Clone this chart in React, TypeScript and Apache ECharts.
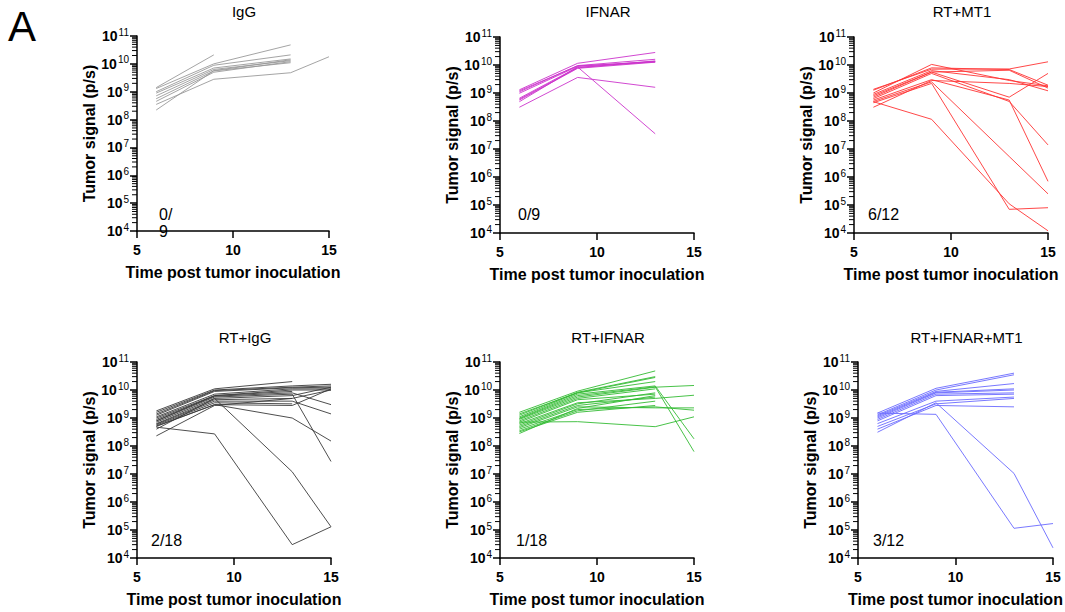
import React, { useEffect, useRef } from "react";
import * as echarts from "echarts";

// Imaging days (x values) shared by every mouse; null = no measurement
const DAYS = [6, 9, 13, 15];
const X_TICKS = [5, 10, 15];
const Y_EXPONENTS = [4, 5, 6, 7, 8, 9, 10, 11];

// Tumor signal (p/s) per mouse, at DAYS
const IGG = [
  [1.4e9, 2.1e10, null, null],
  [2.2e8, 5.7e9, 1.4e10, null],
  [1.3e9, 1.0e10, 4.8e10, null],
  [1.0e9, 8.9e9, 2.1e10, null],
  [8.9e8, 7.1e9, 1.5e10, null],
  [7.1e8, 6.3e9, 1.3e10, null],
  [5.6e8, 5.6e9, 1.1e10, null],
  [4.5e8, 5.0e9, 1.2e10, null],
  [3.5e8, 2.8e9, 4.8e9, 1.8e10],
];

const IFNAR = [
  [1.3e9, 1.15e10, 2.8e10, null],
  [1.1e9, 9.5e9, 1.6e10, null],
  [9.8e8, 8.9e9, 1.35e10, null],
  [6.5e8, 8.3e9, 1.3e10, null],
  [6.0e8, 7.9e9, 1.4e10, null],
  [4.9e8, 8.5e9, 3.5e7, null],
  [3.1e8, 3.6e9, 1.6e9, null],
  [1.2e9, 9.3e9, 1.3e10, null],
  [5.6e8, 7.6e9, 1.26e10, null],
];

const RT_MT1 = [
  [1.35e9, 7.1e9, 7.2e9, 1.3e10],
  [1.26e9, 7.9e9, 6.9e9, 1.9e9],
  [1.0e9, 1.05e10, 2.8e9, 1.8e9],
  [8.9e8, 6.3e9, 3.0e9, 1.2e9],
  [8.0e8, 5.6e9, 6.5e9, 1.5e9],
  [7.1e8, 5.6e9, 7.1e8, 5.0e9],
  [6.3e8, 5.0e9, 5.0e8, 1.4e7],
  [5.6e8, 3.0e9, 5.6e8, 7.0e5],
  [5.0e8, 2.5e9, 5.4e6, 2.5e5],
  [4.5e8, 2.2e9, 7.0e4, 8.0e4],
  [4.9e8, 1.15e8, 1.1e5, 1.2e4],
  [3.1e8, 2.8e9, 2.2e9, 1.7e9],
];

const RT_IGG = [
  [1.8e9, 1.1e10, 2.0e10, null],
  [1.6e9, 1.0e10, 1.4e10, 1.6e10],
  [1.4e9, 9.5e9, 1.26e10, 1.4e10],
  [1.26e9, 8.9e9, 1.2e10, 1.26e10],
  [1.1e9, 7.1e9, 1.1e10, 1.1e10],
  [1.0e9, 6.3e9, 1.0e10, 1.0e10],
  [8.9e8, 6.0e9, 7.9e9, 3.0e9],
  [7.9e8, 5.6e9, 7.1e9, 2.8e7],
  [7.1e8, 5.0e9, 6.3e9, 1.26e10],
  [6.3e8, 4.5e9, 5.0e9, null],
  [6.0e8, 4.0e9, 4.0e9, 1.4e9],
  [5.6e8, 3.5e9, 3.2e9, null],
  [5.2e8, 3.0e9, 2.8e9, 1.1e10],
  [5.0e8, 3.0e9, 1.0e9, 1.5e8],
  [4.7e8, 2.7e8, 3.0e4, 1.3e5],
  [4.0e8, 5.0e9, 1.2e7, 1.3e5],
  [2.3e8, 2.8e9, 5.0e9, 1.0e10],
  [7.9e8, 6.3e9, 8.9e9, null],
];

const RT_IFNAR = [
  [1.6e9, 9.1e9, 4.8e10, null],
  [1.26e9, 8.3e9, 3.0e10, null],
  [1.1e9, 7.9e9, 2.8e10, null],
  [1.0e9, 7.1e9, 1.4e10, 1.8e8],
  [9.5e8, 6.3e9, 1.3e10, 6.3e7],
  [8.9e8, 5.6e9, 1.26e10, 1.45e10],
  [7.9e8, 5.0e9, 1.1e10, null],
  [7.1e8, 4.5e9, 7.1e9, null],
  [6.3e8, 3.5e9, 5.0e9, 6.5e9],
  [5.6e8, 3.2e9, 7.9e9, null],
  [5.0e8, 2.8e9, 5.6e9, null],
  [4.5e8, 2.5e9, 2.3e9, 2.3e9],
  [4.0e8, 2.0e9, 2.5e9, 1.9e9],
  [3.5e8, 1.8e9, 4.0e9, null],
  [2.8e8, 2.2e9, 6.3e9, null],
  [7.1e8, 7.4e8, 4.9e8, 1.1e9],
  [1.4e9, 7.9e9, 2.0e10, null],
  [3.2e8, 1.6e9, 2.8e9, null],
];

const RT_IFNAR_MT1 = [
  [1.5e9, 1.15e10, 4.0e10, null],
  [1.3e9, 1.0e10, 3.5e10, null],
  [1.2e9, 8.9e9, 1.7e10, null],
  [1.1e9, 8.3e9, 1.1e10, null],
  [1.0e9, 7.9e9, 1.0e10, null],
  [8.9e8, 7.1e9, 7.9e9, null],
  [7.9e8, 6.3e9, 7.1e9, null],
  [6.3e8, 4.0e9, 5.6e9, null],
  [5.0e8, 3.2e9, 5.0e9, null],
  [4.0e8, 2.8e9, 2.5e9, null],
  [3.1e8, 3.5e9, 1.05e7, 2.3e4],
  [1.5e9, 1.35e9, 1.15e5, 1.7e5],
];

const PANEL_TITLES = ["IgG", "IFNAR", "RT+MT1", "RT+IgG", "RT+IFNAR", "RT+IFNAR+MT1"];
const PANEL_COUNTS = ["0/\n9", "0/9", "6/12", "2/18", "1/18", "3/12"];
const PANEL_DATA = [IGG, IFNAR, RT_MT1, RT_IGG, RT_IFNAR, RT_IFNAR_MT1];
const PANEL_COLORS = ["#9a9a9a", "#cc33cc", "#ff3333", "#3a3a3a", "#33bb33", "#6a6aff"];

const X_NAME = "Time post tumor inoculation";
const Y_NAME = "Tumor signal (p/s)";

// layout (pixels)
const LAYOUT = [
  { left: 137, top: 36, width: 192, height: 195, countX: 159 },
  { left: 500, top: 37, width: 194, height: 196, countX: 518 },
  { left: 854, top: 37, width: 194, height: 196, countX: 868 },
  { left: 137, top: 362, width: 194, height: 196, countX: 151 },
  { left: 500, top: 362, width: 194, height: 196, countX: 516 },
  { left: 858, top: 362, width: 195, height: 196, countX: 873 },
];

const FONT = "'Liberation Sans', Arial, Helvetica, sans-serif";

export default function App() {
  const ref = useRef<HTMLDivElement>(null);

  useEffect(() => {
    if (!ref.current) return;
    const chart = echarts.init(ref.current, undefined, { renderer: "svg" });

    const minorTickValues: number[] = [];
    for (let i = 0; i < Y_EXPONENTS.length - 1; i++) {
      for (let k = 2; k <= 9; k++) minorTickValues.push(k * Math.pow(10, Y_EXPONENTS[i]));
    }

    const grids: any[] = [];
    const xAxes: any[] = [];
    const yAxes: any[] = [];
    const series: any[] = [];
    const graphics: any[] = [];

    LAYOUT.forEach((l, p) => {
      grids.push({ left: l.left, top: l.top, width: l.width, height: l.height, containLabel: false });
      xAxes.push({
        gridIndex: p,
        type: "value",
        min: X_TICKS[0],
        max: X_TICKS[X_TICKS.length - 1],
        interval: X_TICKS[1] - X_TICKS[0],
        name: X_NAME,
        nameLocation: "middle",
        nameGap: 33,
        nameTextStyle: { fontFamily: FONT, fontWeight: "bold", fontSize: 16, color: "#000" },
        axisLine: { show: true, onZero: false, lineStyle: { color: "#000", width: 1.5 } },
        axisTick: { show: true, length: 7, lineStyle: { color: "#000", width: 1.5 } },
        axisLabel: { fontFamily: FONT, fontWeight: "bold", fontSize: 14, color: "#000", margin: 12 },
        splitLine: { show: false },
      });
      yAxes.push({
        gridIndex: p,
        type: "log",
        logBase: 10,
        min: Math.pow(10, Y_EXPONENTS[0]),
        max: Math.pow(10, Y_EXPONENTS[Y_EXPONENTS.length - 1]),
        interval: 1,
        name: Y_NAME,
        nameLocation: "middle",
        nameGap: 38,
        nameTextStyle: { fontFamily: FONT, fontWeight: "bold", fontSize: 16, color: "#000" },
        axisLine: { show: true, onZero: false, lineStyle: { color: "#000", width: 1.5 } },
        axisTick: { show: true, length: 7, lineStyle: { color: "#000", width: 1.5 } },
        axisLabel: {
          margin: 8,
          formatter: (v: number) => `{b|10}{s|${Math.round(Math.log10(v))}}`,
          rich: {
            b: { fontFamily: FONT, fontWeight: "bold", fontSize: 14, color: "#000" },
            s: { fontFamily: FONT, fontWeight: "normal", fontSize: 10, color: "#000", padding: [0, 0, 8, 1] },
          },
        },
        splitLine: { show: false },
        minorTick: { show: false },
      });

      // minor log ticks on the y axis (small rects placed on the axis via its log scale)
      series.push({
        type: "scatter",
        xAxisIndex: p,
        yAxisIndex: p,
        silent: true,
        clip: false,
        symbol: "rect",
        symbolSize: [5, 1],
        symbolOffset: [-2.5, 0],
        itemStyle: { color: "#000", opacity: 1 },
        data: minorTickValues.map((v) => [X_TICKS[0], v]),
        z: 3,
      });

      PANEL_DATA[p].forEach((mouse) => {
        const pts: number[][] = [];
        mouse.forEach((v, i) => {
          if (v !== null && v !== undefined) pts.push([DAYS[i], v as number]);
        });
        series.push({
          type: "line",
          xAxisIndex: p,
          yAxisIndex: p,
          data: pts,
          symbol: "none",
          showSymbol: false,
          silent: true,
          lineStyle: { color: PANEL_COLORS[p], width: 0.9 },
          itemStyle: { color: PANEL_COLORS[p] },
          z: 2,
        });
      });

      graphics.push({
        type: "text",
        x: l.left + l.width / 2 + 11,
        y: p < 3 ? 11 : 337,
        style: {
          text: PANEL_TITLES[p],
          font: `15px ${FONT}`,
          fill: "#000",
          textAlign: "center",
          textVerticalAlign: "middle",
          align: "center",
          verticalAlign: "middle",
        },
      });
      graphics.push({
        type: "text",
        x: l.countX,
        y: p < 3 ? 206 : 532,
        style: {
          text: PANEL_COUNTS[p],
          font: `16px ${FONT}`,
          lineHeight: 17,
          fill: "#000",
          textAlign: "left",
          textVerticalAlign: "top",
          align: "left",
          verticalAlign: "top",
        },
      });
    });

    graphics.push({
      type: "text",
      x: 8,
      y: 5,
      style: {
        text: "A",
        font: `42px ${FONT}`,
        fill: "#000",
        textAlign: "left",
        textVerticalAlign: "top",
        align: "left",
        verticalAlign: "top",
      },
    });

    chart.setOption({
      animation: false,
      backgroundColor: "#fff",
      grid: grids,
      xAxis: xAxes,
      yAxis: yAxes,
      series,
      graphic: graphics,
    });

    return () => chart.dispose();
  }, []);

  return (
    <div
      ref={ref}
      style={{ position: "absolute", left: 0, top: 0, width: 1065, height: 612, background: "#fff" }}
    />
  );
}
